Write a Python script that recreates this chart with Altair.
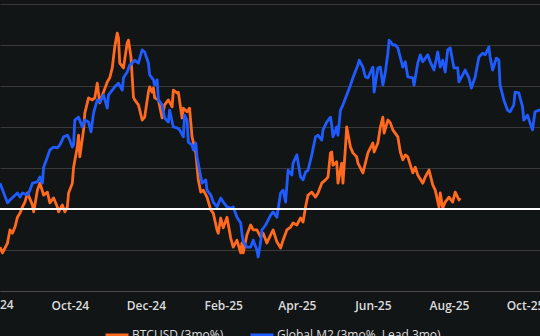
import altair as alt
import pandas as pd

btc_dates = [
    "2024-08-06","2024-08-08","2024-08-12","2024-08-14","2024-08-16","2024-08-18","2024-08-20","2024-08-22",
    "2024-08-24","2024-08-26","2024-08-28","2024-09-01","2024-09-02","2024-09-05","2024-09-07","2024-09-10",
    "2024-09-13","2024-09-15","2024-09-18","2024-09-21","2024-09-22","2024-09-25","2024-09-27","2024-09-29",
    "2024-09-30","2024-10-03","2024-10-04","2024-10-07","2024-10-08","2024-10-09","2024-10-12","2024-10-13",
    "2024-10-16","2024-10-19","2024-10-21","2024-10-23","2024-10-25","2024-10-28","2024-10-31","2024-11-02",
    "2024-11-04","2024-11-06","2024-11-08","2024-11-09","2024-11-10","2024-11-13","2024-11-16","2024-11-17",
    "2024-11-19","2024-11-21","2024-11-22","2024-11-25","2024-11-28","2024-11-30","2024-12-03","2024-12-04",
    "2024-12-06","2024-12-07","2024-12-08","2024-12-11","2024-12-14","2024-12-16","2024-12-19","2024-12-22",
    "2024-12-23","2024-12-26","2024-12-27","2024-12-30","2024-12-31","2025-01-03","2025-01-05","2025-01-07",
    "2025-01-10","2025-01-12","2025-01-14","2025-01-16","2025-01-19","2025-01-22","2025-01-24","2025-01-27",
    "2025-01-28","2025-01-30","2025-02-01","2025-02-04","2025-02-07","2025-02-09","2025-02-12","2025-02-15",
    "2025-02-16","2025-02-17","2025-02-20","2025-02-23","2025-02-25","2025-02-28","2025-03-03","2025-03-05",
    "2025-03-08","2025-03-11","2025-03-13","2025-03-16","2025-03-19","2025-03-21","2025-03-24","2025-03-27",
    "2025-03-29","2025-04-01","2025-04-04","2025-04-06","2025-04-08","2025-04-10","2025-04-13","2025-04-16",
    "2025-04-18","2025-04-21","2025-04-24","2025-04-26","2025-04-28","2025-04-29","2025-04-30","2025-05-03",
    "2025-05-04","2025-05-07","2025-05-08","2025-05-10","2025-05-11","2025-05-14","2025-05-16","2025-05-19",
    "2025-05-20","2025-05-24","2025-05-26","2025-05-28","2025-06-01","2025-06-02","2025-06-05","2025-06-07",
    "2025-06-09","2025-06-10","2025-06-13","2025-06-15","2025-06-17","2025-06-21","2025-06-23","2025-06-25",
    "2025-06-27","2025-06-29","2025-07-03","2025-07-05","2025-07-07","2025-07-11","2025-07-13","2025-07-16",
    "2025-07-19","2025-07-21","2025-07-24","2025-07-25","2025-07-27","2025-07-29","2025-08-01","2025-08-04",
    "2025-08-06","2025-08-09","2025-08-10",
]
btc_values = [
    -9.3,-10.7,-8.3,-5.1,-5.9,-4.4,-2.0,-1.0,
    0.5,1.7,3.9,1.0,-0.7,4.6,6.3,3.4,
    4.1,1.5,2.7,0.5,-0.7,1.0,-0.7,0.5,
    3.9,6.3,10.2,15.1,18.0,12.7,19.3,23.4,
    27.1,26.6,27.1,30.7,25.9,28.5,31.0,32.0,
    34.4,39.5,42.9,41.7,35.6,34.4,40.5,41.2,
    37.1,27.3,26.6,25.4,21.7,22.4,28.5,29.8,
    28.5,29.5,27.1,26.6,22.2,25.4,26.6,24.9,
    29.0,28.3,28.5,22.2,24.6,23.7,24.6,17.6,
    13.7,7.1,4.1,4.6,2.9,-0.2,-1.0,-5.1,
    -5.9,-2.2,-4.6,-2.0,-7.1,-9.3,-7.6,-10.7,
    -8.3,-10.7,-6.3,-3.9,-5.1,-5.1,-6.8,-5.9,
    -8.3,-6.3,-5.1,-8.0,-9.5,-7.6,-5.1,-4.4,
    -3.4,-3.9,-2.2,-3.2,0.5,3.4,4.1,2.9,
    3.9,6.3,7.1,7.8,13.7,13.9,10.7,11.5,
    6.3,11.2,6.3,15.1,20.0,15.1,13.7,12.7,
    11.2,8.8,11.2,13.7,16.1,13.9,16.1,20.0,
    22.4,18.5,21.7,21.0,19.3,17.6,13.9,12.0,
    13.2,12.7,8.8,10.2,8.3,6.3,7.8,9.5,
    5.9,4.6,0.5,3.9,0.2,1.7,2.9,1.7,
    4.1,2.2,2.7,
]

m2_dates = [
    "2024-08-06","2024-08-12","2024-08-14","2024-08-20","2024-08-22","2024-08-24","2024-08-28","2024-08-30",
    "2024-09-01","2024-09-05","2024-09-07","2024-09-09","2024-09-10","2024-09-13","2024-09-15","2024-09-18",
    "2024-09-21","2024-09-23","2024-09-26","2024-09-29","2024-10-01","2024-10-03","2024-10-04","2024-10-05",
    "2024-10-08","2024-10-11","2024-10-13","2024-10-16","2024-10-18","2024-10-20","2024-10-23","2024-10-25",
    "2024-10-28","2024-10-31","2024-11-01","2024-11-04","2024-11-06","2024-11-09","2024-11-12","2024-11-13",
    "2024-11-16","2024-11-18","2024-11-21","2024-11-22","2024-11-25","2024-11-28","2024-11-30","2024-12-03",
    "2024-12-04","2024-12-07","2024-12-08","2024-12-10","2024-12-11","2024-12-14","2024-12-16","2024-12-19",
    "2024-12-20","2024-12-23","2024-12-26","2024-12-28","2024-12-31","2025-01-01","2025-01-03","2025-01-04",
    "2025-01-07","2025-01-08","2025-01-10","2025-01-11","2025-01-14","2025-01-15","2025-01-18","2025-01-19",
    "2025-01-22","2025-01-24","2025-01-27","2025-01-30","2025-02-01","2025-02-04","2025-02-07","2025-02-09",
    "2025-02-12","2025-02-15","2025-02-16","2025-02-17","2025-02-20","2025-02-23","2025-02-25","2025-02-28",
    "2025-03-01","2025-03-03","2025-03-04","2025-03-07","2025-03-09","2025-03-11","2025-03-13","2025-03-16",
    "2025-03-19","2025-03-21","2025-03-23","2025-03-25","2025-03-28","2025-03-29","2025-04-01","2025-04-04",
    "2025-04-06","2025-04-08","2025-04-10","2025-04-13","2025-04-16","2025-04-18","2025-04-21","2025-04-22",
    "2025-04-25","2025-04-28","2025-04-29","2025-04-30","2025-05-03","2025-05-04","2025-05-06","2025-05-08",
    "2025-05-11","2025-05-14","2025-05-16","2025-05-20","2025-05-21","2025-05-24","2025-05-26","2025-05-28",
    "2025-06-01","2025-06-02","2025-06-05","2025-06-07","2025-06-09","2025-06-11","2025-06-13","2025-06-14",
    "2025-06-17","2025-06-19","2025-06-21","2025-06-25","2025-06-27","2025-06-29","2025-07-03","2025-07-04",
    "2025-07-07","2025-07-09","2025-07-11","2025-07-15","2025-07-17","2025-07-20","2025-07-23","2025-07-25",
    "2025-07-27","2025-07-29","2025-07-31","2025-08-02","2025-08-05","2025-08-08","2025-08-09","2025-08-12",
    "2025-08-14","2025-08-17","2025-08-19","2025-08-22","2025-08-25","2025-08-28","2025-08-30","2025-09-02",
    "2025-09-03","2025-09-05","2025-09-08","2025-09-10","2025-09-11","2025-09-14","2025-09-17","2025-09-19",
    "2025-09-22","2025-09-23","2025-09-26","2025-09-29","2025-09-30","2025-10-03","2025-10-05","2025-10-07",
    "2025-10-09","2025-10-12","2025-10-15",
]
m2_values = [
    6.3,1.5,2.2,3.9,2.9,3.9,3.4,4.6,
    6.3,6.6,7.8,6.3,10.2,12.7,14.4,15.1,
    14.9,15.6,17.6,18.0,16.8,15.1,15.6,21.7,
    22.4,20.0,21.7,21.2,18.8,23.4,26.6,26.1,
    27.8,24.6,27.8,29.0,29.8,30.7,29.0,32.0,
    33.4,35.1,35.9,36.3,35.6,38.8,38.3,35.6,
    32.7,31.5,30.2,31.5,26.6,25.4,22.2,21.2,
    24.1,20.0,19.8,19.3,17.6,22.9,21.7,16.3,
    15.6,14.4,16.1,12.7,7.8,6.3,7.1,4.6,
    3.4,1.7,0.5,2.7,1.7,0.5,0.2,0.5,
    -2.0,-3.4,-5.9,-8.0,-9.3,-9.3,-7.6,-10.0,
    -11.7,-8.0,-5.1,-3.9,-2.7,-1.5,-0.7,-2.0,
    3.9,4.6,1.7,9.5,8.3,11.2,13.2,7.8,
    7.1,9.0,9.5,13.2,17.6,18.0,16.8,19.3,
    21.2,22.4,20.5,17.6,20.0,18.0,24.1,25.4,
    27.8,30.2,32.0,35.1,36.3,34.6,32.2,32.0,
    34.6,28.5,34.4,34.6,30.2,33.4,38.0,41.2,
    40.0,40.0,39.3,34.6,35.9,32.2,32.0,30.2,
    35.6,37.6,35.9,37.6,35.9,33.9,38.3,34.6,
    36.3,33.4,38.8,39.3,34.4,34.4,31.0,32.7,
    33.9,32.0,29.5,32.2,37.1,38.0,37.6,39.5,
    37.1,33.9,36.8,36.3,30.2,26.6,24.1,23.7,
    25.4,28.5,28.3,24.9,21.7,22.9,21.0,19.3,
    23.7,24.1,24.1,
]

series_names = ["BTCUSD (3mo%)", "Global M2 (3mo%, Lead 3mo)"]
series_colors = ["#FF6A1F", "#1F5CFF"]
tick_dates = ["2024-10-01", "2024-12-01", "2025-02-01", "2025-04-01",
              "2025-06-01", "2025-08-01", "2025-10-01"]
# first tick label sits just left of the visible range (only partly shown)
edge_tick_date = ["2024-08-01"]
edge_tick_label = ["Aug-24"]
y_ticks = [-20, -10, 0, 10, 20, 30, 40, 50]

df = pd.concat([
    pd.DataFrame({"date": btc_dates, "value": btc_values, "series": series_names[0], "ord": 0}),
    pd.DataFrame({"date": m2_dates, "value": m2_values, "series": series_names[1], "ord": 1}),
], ignore_index=True)

x_scale = alt.Scale(domain=["2024-08-06", "2025-10-13"])
y_scale = alt.Scale(domain=[-20, 50], nice=False, zero=False)

label_color = "#dcdcdc"
label_font = "Open Sans"

lines = alt.Chart(df).mark_line(strokeWidth=2.8, clip=True, strokeJoin="round").encode(
    x=alt.X("date:T", scale=x_scale, title=None,
            axis=alt.Axis(values=tick_dates, format="%b-%y", labelFlush=False,
                          labelOverlap=False, ticks=False, tickSize=0, labelPadding=9,
                          grid=False, domain=True, domainColor="#4a4a4a", domainWidth=1,
                          labelColor=label_color, labelFont=label_font, labelFontSize=12,
                          labelFontWeight=600)),
    y=alt.Y("value:Q", scale=y_scale, title=None,
            axis=alt.Axis(values=y_ticks, labels=False, ticks=False, domain=False,
                          grid=True, gridColor="#3a3a3a", gridWidth=1)),
    color=alt.Color("series:N", scale=alt.Scale(domain=series_names, range=series_colors),
                    legend=alt.Legend(title=None, orient="none", legendX=104, legendY=318,
                                      direction="horizontal", symbolType="stroke",
                                      symbolStrokeWidth=3, symbolSize=529, columnPadding=20,
                                      labelOffset=2, padding=0, labelColor=label_color,
                                      labelFont=label_font, labelFontSize=12,
                                      labelFontWeight=500, labelLimit=400)),
    order=alt.Order("ord:Q"),
    detail="series:N",
)

edge_label = alt.Chart(pd.DataFrame({"date": edge_tick_date, "label": edge_tick_label,
                                     "y": [-20]})).mark_text(
    color=label_color, font=label_font, fontSize=12, fontWeight=600,
    baseline="top", align="center", dy=9,
).encode(
    x=alt.X("date:T", scale=x_scale),
    y=alt.Y("y:Q", scale=y_scale),
    text="label:N",
)

zero = alt.Chart(pd.DataFrame({"z": [0]})).mark_rule(color="#ffffff", strokeWidth=2).encode(
    y=alt.Y("z:Q", scale=y_scale)
)

chart = alt.layer(lines, zero, edge_label).properties(
    width=540, height=287,
    padding={"left": 0, "top": 4, "right": 0, "bottom": 45},
    autosize=alt.AutoSizeParams(type="none"),
    background="#121516",
).configure_view(stroke=None)

chart.save("out.html", embed_options={"renderer": "svg", "actions": False})
